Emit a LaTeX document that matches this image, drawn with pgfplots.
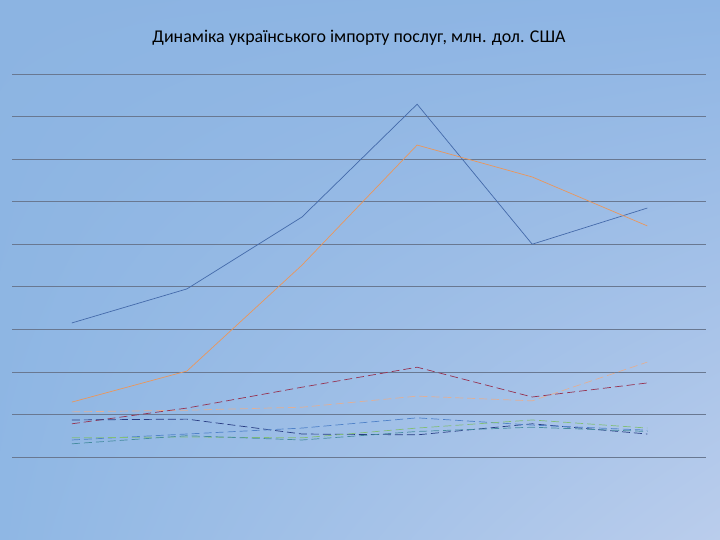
\documentclass[border=0pt]{standalone}
\usepackage{pgfplots}
\pgfplotsset{compat=1.18}
\usetikzlibrary{shadings}
\usepackage{fontspec}
\setmainfont{Carlito}

\definecolor{bgtl}{RGB}{140,180,226}
\definecolor{bgtr}{RGB}{142,181,228}
\definecolor{bgbl}{RGB}{143,183,228}
\definecolor{bgbr}{RGB}{186,205,236}
\definecolor{gridc}{RGB}{105,120,145}
\definecolor{sblue}{RGB}{68,106,170}
\definecolor{sorange}{RGB}{235,150,90}
\definecolor{speach}{RGB}{225,175,150}
\definecolor{sred}{RGB}{150,50,80}
\definecolor{sdblue}{RGB}{40,60,130}
\definecolor{slblue}{RGB}{80,130,200}
\definecolor{sgreen}{RGB}{130,190,120}
\definecolor{steal}{RGB}{70,140,160}

\begin{document}
\begin{tikzpicture}[x=1bp,y=1bp]
\shade[upper left=bgtl, upper right=bgtr, lower left=bgbl, lower right=bgbr]
  (0,0) rectangle (720,540);
\useasboundingbox (0,0) rectangle (720,540);
\node[font=\fontsize{18}{21}\selectfont] at (359,502) {Динаміка українського імпорту послуг, млн. дол. США};
\begin{axis}[
  at={(12bp,83bp)}, anchor=south west,
  scale only axis, width=694bp, height=383bp,
  xmin=-0.52, xmax=5.51, ymin=0, ymax=9,
  axis line style={draw=none},
  xtick=\empty, ytick={0,...,9}, yticklabels={},
  major tick length=0pt,
  ymajorgrids, grid style={gridc, line width=0.7bp},
  every axis plot/.append style={line width=0.7bp, mark=none},
  ldash/.style={dash pattern=on 8bp off 4bp},
  clip=false,
]
% blue solid
\addplot[sblue] coordinates {(0,3.15) (1,3.95) (2,5.64) (3,8.29) (4,5.00) (5,5.85)};
% orange solid
\addplot[sorange] coordinates {(0,1.29) (1,2.02) (2,4.51) (3,7.33) (4,6.58) (5,5.43)};
% light peach
\addplot[speach, ldash] coordinates {(0,1.06) (1,1.10) (2,1.17) (3,1.43) (4,1.32) (5,2.23)};
% dark red dashed
\addplot[sred, ldash] coordinates {(0,0.78) (1,1.15) (2,1.64) (3,2.11) (4,1.41) (5,1.74)};
% dark blue dashed
\addplot[sdblue, ldash] coordinates {(0,0.87) (1,0.89) (2,0.54) (3,0.52) (4,0.78) (5,0.54)};
% light blue dashed
\addplot[slblue, ldash] coordinates {(0,0.40) (1,0.54) (2,0.68) (3,0.92) (4,0.75) (5,0.63)};
% green dashed
\addplot[sgreen, ldash] coordinates {(0,0.45) (1,0.47) (2,0.45) (3,0.68) (4,0.87) (5,0.68)};
% teal dashed
\addplot[steal, ldash] coordinates {(0,0.31) (1,0.50) (2,0.40) (3,0.60) (4,0.70) (5,0.60)};
\end{axis}
\end{tikzpicture}
\end{document}
